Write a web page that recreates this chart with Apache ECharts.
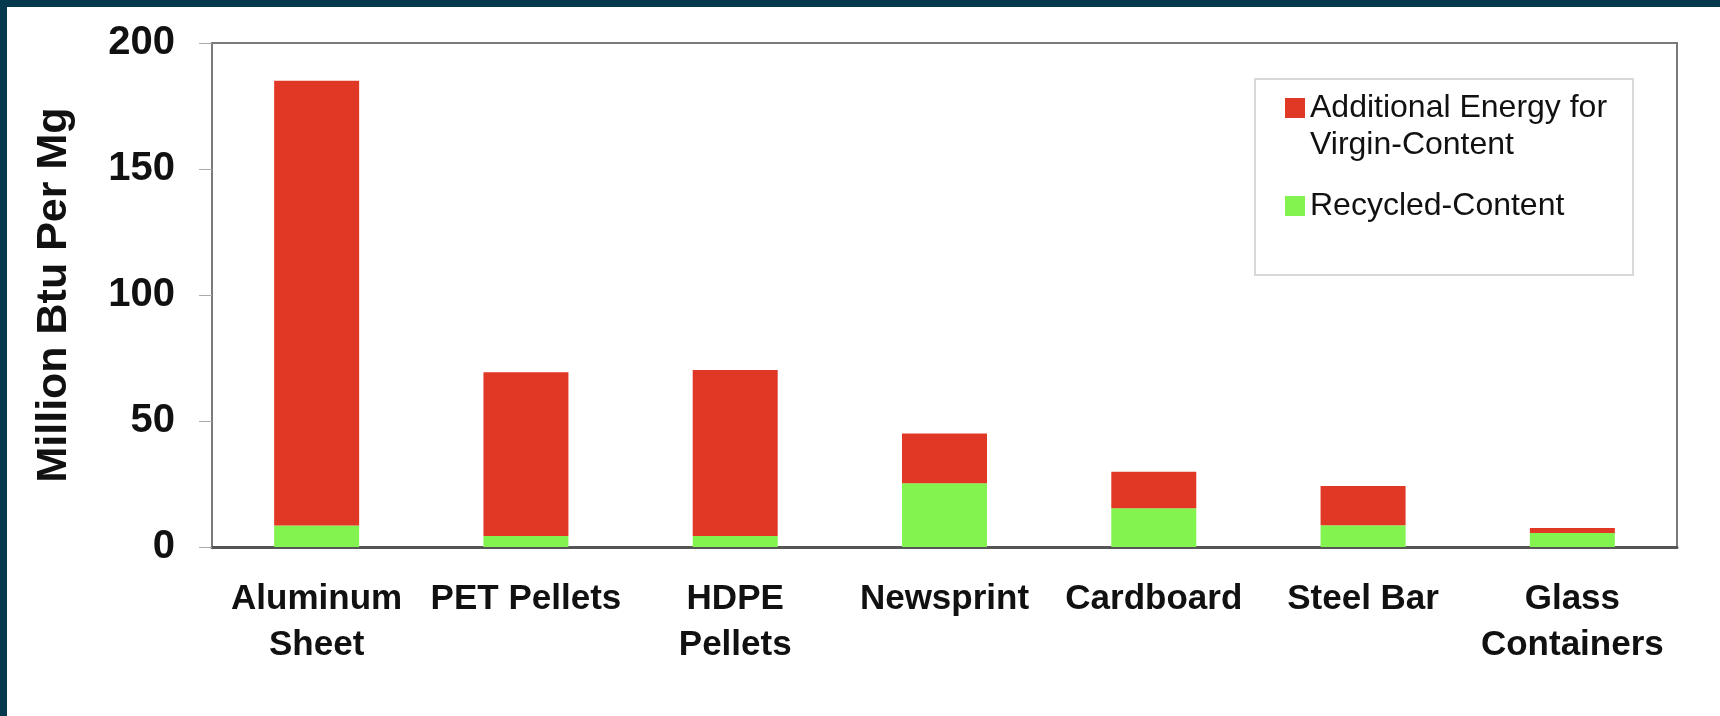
<!DOCTYPE html>
<html>
<head>
<meta charset="utf-8">
<script src="https://cdn.jsdelivr.net/npm/echarts@6/dist/echarts.min.js"></script>
<style>
    html, body { margin: 0; padding: 0; background: #053a4e; }
    #chart { position: absolute; left: 7px; top: 7px; width: 1713px; height: 709px; background: #ffffff; }
</style>
</head>
<body>
<div id="chart"></div>
<script>
//  categories
const categories = ['Aluminum\nSheet', 'PET Pellets', 'HDPE\nPellets', 'Newsprint', 'Cardboard', 'Steel Bar', 'Glass\nContainers'];
//  recycled-content energy (bottom part)
const recycledValues = [8.5, 4.4, 4.4, 25.3, 15.4, 8.6, 5.6];
//  additional energy for virgin-content (top part)
const additionalValues = [176.5, 64.9, 65.8, 19.7, 14.5, 15.6, 1.9];
const seriesNames = ['Additional Energy for Virgin-Content', 'Recycled-Content'];
const yTicks = [0, 50, 100, 150, 200];

const fontFamily = '"Liberation Sans", Arial, sans-serif';
const red = '#e13826';
const green = '#83f350';

const myChart = echarts.init(document.getElementById('chart'));
myChart.setOption({
    animation: false,
    backgroundColor: '#ffffff',
    textStyle: {fontFamily: fontFamily},
    grid: {
        left: 205,
        right: 43,
        top: 36,
        bottom: 169,
        show: true,
        borderColor: '#7a7a7a',
        borderWidth: 2,
    },
    //  legend box, first item wraps on two lines
    legend: {
        orient: 'vertical',
        left: 1248,
        top: 72,
        padding: [10.5, 26, 40.5, 30],
        borderColor: '#d8d8d8',
        borderWidth: 2,
        itemWidth: 20,
        itemHeight: 57,
        itemGap: 14,
        selectedMode: false,
        data: [
            {name: seriesNames[0], icon: 'path://M0,0H20V20H0ZM0,57'},
            {name: seriesNames[1], icon: 'path://M0,0M0,18.5H20V38.5H0ZM0,57'},
        ],
        formatter: function (name) {
            return name.replace(' Virgin', '\nVirgin');
        },
        textStyle: {
            fontFamily: fontFamily,
            fontSize: 32,
            lineHeight: 37,
            color: '#111111',
        },
    },
    xAxis: {
        type: 'category',
        data: categories,
        axisLine: {lineStyle: {color: '#555555', width: 3}},
        axisTick: {length: 10, lineStyle: {color: '#aaaaaa', width: 1}},
        axisLabel: {
            interval: 0,
            margin: 29,
            color: '#111111',
            fontFamily: fontFamily,
            fontSize: 35,
            fontWeight: 'bold',
            lineHeight: 46,
        },
    },
    yAxis: {
        type: 'value',
        min: yTicks[0],
        max: yTicks[yTicks.length - 1],
        interval: yTicks[1] - yTicks[0],
        name: 'Million Btu Per Mg',
        nameLocation: 'middle',
        nameRotate: 90,
        nameGap: 136,
        nameTextStyle: {
            fontFamily: fontFamily,
            fontSize: 43,
            fontWeight: 'bold',
            color: '#111111',
        },
        axisLine: {show: true, lineStyle: {color: '#7a7a7a', width: 2}},
        axisTick: {show: true, length: 13, lineStyle: {color: '#aaaaaa', width: 1}},
        splitLine: {show: false},
        axisLabel: {
            margin: 37,
            color: '#111111',
            fontFamily: fontFamily,
            fontSize: 40,
            fontWeight: 'bold',
        },
    },
    series: [
        {
            name: seriesNames[1],
            type: 'bar',
            stack: 'energy',
            barWidth: 85,
            itemStyle: {color: green},
            data: recycledValues,
        },
        {
            name: seriesNames[0],
            type: 'bar',
            stack: 'energy',
            barWidth: 85,
            itemStyle: {color: red},
            data: additionalValues,
        },
    ],
});
</script>
</body>
</html>
